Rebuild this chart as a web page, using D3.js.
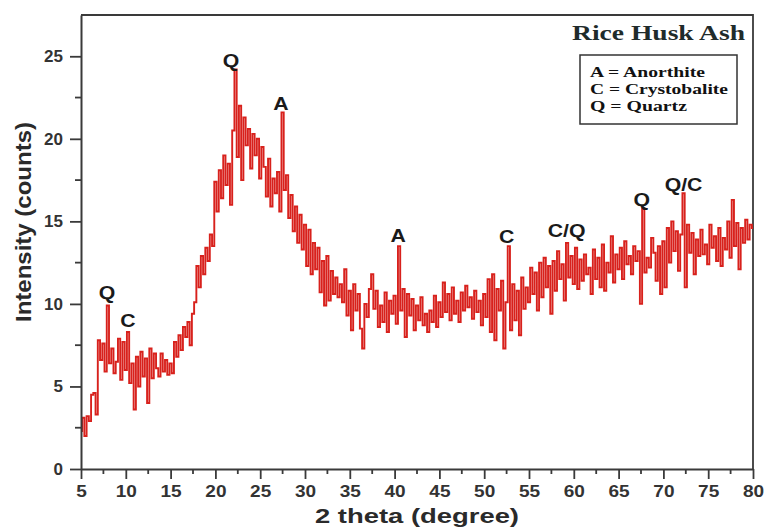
<!DOCTYPE html>
<html>
<head>
<meta charset="utf-8">
<script src="https://cdn.jsdelivr.net/npm/d3@7"></script>
<style>
  body { margin: 0; background: #fff; }
  svg { display: block; }
</style>
</head>
<body>
<div id="graph"></div>
<script>
var thetaStart = 5, thetaStep = 0.25
var intensity = [
  2.3, 3.1, 2.0, 3.2, 2.9, 4.5, 4.6, 3.3, 7.8, 6.6, 7.6, 5.9, 9.9, 6.4, 7.3, 5.8, 6.5, 7.9, 5.4, 7.7,
  6.0, 8.3, 5.2, 6.4, 3.6, 6.8, 5.0, 7.1, 5.6, 6.7, 4.0, 7.3, 5.5, 7.0, 6.1, 5.6, 7.0, 5.9, 6.6, 5.7,
  6.4, 5.8, 7.7, 6.8, 8.1, 7.2, 8.6, 8.0, 8.9, 7.5, 9.4, 10.1, 12.3, 11.0, 12.9, 11.8, 13.4, 12.6, 14.2, 13.5,
  17.4, 15.6, 18.1, 16.4, 19.0, 17.2, 18.5, 16.0, 20.5, 24.2, 18.9, 22.0, 17.5, 21.3, 19.6, 20.6, 18.2, 20.3, 19.0, 20.0,
  17.6, 19.5, 18.3, 16.5, 18.8, 15.9, 17.6, 16.7, 18.0, 15.6, 21.6, 16.9, 17.8, 15.2, 16.6, 14.4, 15.9, 13.7, 15.4, 13.3,
  14.8, 12.3, 14.5, 11.8, 13.7, 12.1, 13.4, 10.7, 12.6, 9.9, 12.9, 10.2, 12.0, 10.6, 11.6, 10.4, 11.2, 10.1, 12.1, 9.3,
  10.8, 8.4, 11.2, 9.6, 10.6, 8.5, 7.3, 10.0, 9.2, 10.9, 11.8, 9.7, 10.8, 8.6, 9.9, 8.9, 10.7, 8.3, 10.2, 9.4,
  10.5, 8.8, 13.5, 9.6, 10.9, 8.0, 10.6, 9.3, 10.3, 8.4, 9.9, 9.0, 10.4, 8.7, 9.4, 8.3, 9.6, 8.9, 10.5, 8.6,
  10.1, 9.2, 11.3, 9.5, 10.6, 9.0, 11.0, 9.4, 10.2, 8.9, 10.7, 9.6, 11.1, 9.8, 10.4, 9.1, 10.8, 9.5, 10.2, 8.7,
  10.6, 9.2, 11.5, 8.3, 11.8, 7.8, 10.9, 9.6, 11.4, 7.3, 10.1, 13.5, 8.4, 11.2, 9.0, 10.8, 8.1, 11.6, 9.7, 11.0,
  10.1, 12.2, 10.6, 11.9, 9.6, 12.5, 10.4, 12.8, 11.0, 12.3, 9.4, 12.6, 10.8, 13.2, 11.5, 12.4, 10.2, 13.7, 11.6, 12.9,
  11.2, 13.4, 10.9, 12.7, 11.4, 13.0, 11.8, 12.2, 10.6, 13.3, 11.5, 12.8, 11.0, 13.6, 10.8, 12.5, 11.9, 14.1, 11.3, 13.0,
  12.1, 13.4, 11.5, 13.8, 12.4, 12.9, 11.8, 13.5, 12.6, 13.2, 10.0, 15.8, 11.9, 12.8, 12.2, 14.0, 13.1, 11.4, 13.5, 10.6,
  13.8, 11.0, 14.6, 12.5, 15.0, 13.2, 14.4, 12.0, 14.2, 16.7, 11.0, 14.8, 13.1, 14.3, 11.8, 13.9, 12.9, 14.5, 13.0, 13.6,
  12.4, 14.8, 13.4, 14.1, 12.6, 14.6, 12.3, 14.0, 13.3, 15.0, 12.8, 16.3, 13.5, 14.9, 12.1, 14.6, 13.7, 15.1, 13.9, 14.8,
  14.6
]

// phase labels: 2 theta of the text, intensity level of its baseline, text
var peakTheta = [7.9, 10.25, 21.75, 27.3, 40.4, 52.5, 59.2, 67.6, 72.25]
var peakLevel = [10.3, 8.6, 24.35, 21.75, 13.75, 13.7, 14.05, 15.95, 16.85]
var peakText  = ['Q', 'C', 'Q', 'A', 'A', 'C', 'C/Q', 'Q', 'Q/C']

var legendLines = ['A = Anorthite', 'C = Crystobalite', 'Q = Quartz']
var legendWidths = [115, 138, 97]

var data = intensity.map(function(v, i){ return {t: thetaStart + i*thetaStep, v: v} })

var W = 765, H = 530
var m = {left: 81, right: 12, top: 15, bottom: 61}

var svg = d3.select('#graph').append('svg')
    .attr('width', W).attr('height', H)

var x = d3.scaleLinear().domain([5, 80]).range([m.left, W - m.right])
var y = d3.scaleLinear().domain([0, 27.5]).range([H - m.bottom, m.top])

var axisColor = '#3a3a3a'
var sans = 'Liberation Sans, Arial, sans-serif'
var serif = 'Liberation Serif, Times New Roman, serif'

// frame (top + right)
svg.append('path')
    .attr('d', 'M' + x(5) + ',' + y(27.5) + 'H' + x(80) + 'V' + y(0))
    .attr('fill', 'none').attr('stroke', axisColor).attr('stroke-width', 1.8)

// the pattern
var line = d3.line()
    .x(function(d){ return x(d.t) })
    .y(function(d){ return y(d.v) })
    .curve(d3.curveStep)

svg.append('path')
    .datum(data)
    .attr('d', line)
    .attr('fill', 'none')
    .attr('stroke', '#d8211c')
    .attr('stroke-width', 1.9)

// axes
var xAxis = svg.append('g')
    .attr('transform', 'translate(0,' + y(0) + ')')
    .call(d3.axisBottom(x).tickValues(d3.range(5, 81, 5)).tickSize(10).tickSizeOuter(0).tickPadding(6))
xAxis.selectAll('.minor').data(d3.range(7.5, 80, 5)).enter().append('line')
    .attr('x1', x).attr('x2', x).attr('y1', 0).attr('y2', 5)

var yAxis = svg.append('g')
    .attr('transform', 'translate(' + x(5) + ',0)')
    .call(d3.axisLeft(y).tickValues(d3.range(0, 26, 5)).tickSize(11).tickSizeOuter(0).tickPadding(7))
yAxis.selectAll('.minor').data(d3.range(2.5, 27, 5)).enter().append('line')
    .attr('x1', 0).attr('x2', -6).attr('y1', y).attr('y2', y)

svg.selectAll('.domain').attr('stroke', axisColor).attr('stroke-width', 2)
svg.selectAll('g line').attr('stroke', axisColor).attr('stroke-width', 1.8)
svg.selectAll('.tick text')
    .attr('fill', '#333')
    .style('font-family', sans)
    .style('font-size', '17px')
    .style('font-weight', 'bold')
xAxis.selectAll('.tick text').attr('transform', 'scale(1.12,1)')

// axis titles
svg.append('text')
    .attr('x', (x(5) + x(80)) / 2).attr('y', 523)
    .attr('text-anchor', 'middle')
    .attr('textLength', 204).attr('lengthAdjust', 'spacingAndGlyphs')
    .style('font-family', sans).style('font-size', '20px').style('font-weight', 'bold')
    .attr('fill', '#2a2a2a')
    .text('2 theta (degree)')

svg.append('text')
    .attr('transform', 'translate(31,222) rotate(-90)')
    .attr('text-anchor', 'middle')
    .attr('textLength', 200).attr('lengthAdjust', 'spacingAndGlyphs')
    .style('font-family', sans).style('font-size', '22px').style('font-weight', 'bold')
    .attr('fill', '#2a2a2a')
    .text('Intensity (counts)')

// peak labels
svg.selectAll('text.peak').data(peakText).enter().append('text')
    .attr('class', 'peak')
    .attr('transform', function(d, i){
      return 'translate(' + x(peakTheta[i]) + ',' + y(peakLevel[i]) + ') scale(1.12,1)'
    })
    .attr('text-anchor', 'middle')
    .style('font-family', sans).style('font-size', '19px').style('font-weight', 'bold')
    .attr('fill', '#1a1a1a')
    .text(function(d){ return d })

// title + legend box
svg.append('text')
    .attr('x', 572).attr('y', 40)
    .attr('textLength', 173).attr('lengthAdjust', 'spacingAndGlyphs')
    .style('font-family', serif)
    .style('font-size', '22px').style('font-weight', 'bold')
    .attr('fill', '#1f2b2b')
    .text('Rice Husk Ash')

svg.append('rect')
    .attr('x', 580).attr('y', 55).attr('width', 157).attr('height', 69)
    .attr('fill', '#fff').attr('stroke', '#333').attr('stroke-width', 1.5)

svg.selectAll('text.leg').data(legendLines).enter().append('text')
    .attr('class', 'leg')
    .attr('x', 590)
    .attr('y', function(d, i){ return 77 + i*17 })
    .attr('textLength', function(d, i){ return legendWidths[i] })
    .attr('lengthAdjust', 'spacingAndGlyphs')
    .style('font-family', serif)
    .style('font-size', '15px').style('font-weight', 'bold')
    .attr('fill', '#111')
    .text(function(d){ return d })
</script>
</body>
</html>
